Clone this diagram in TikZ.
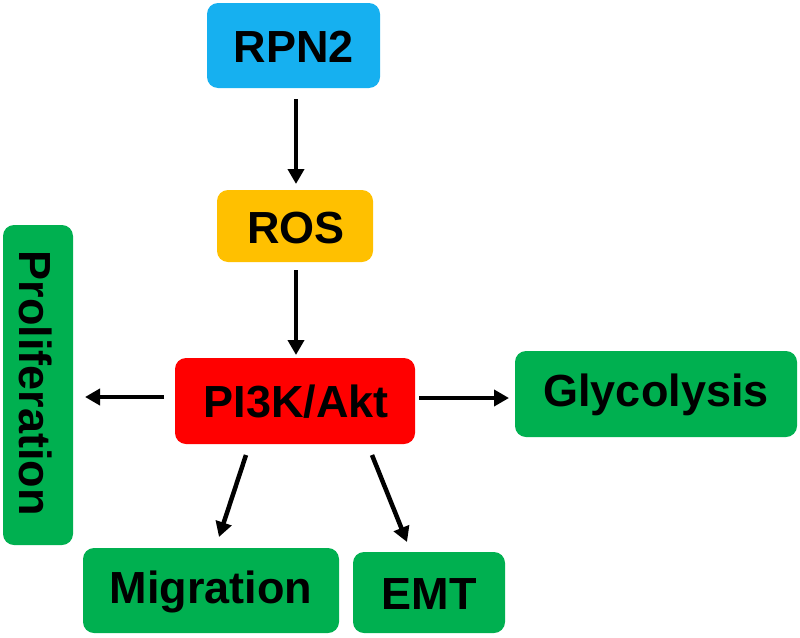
\documentclass[tikz,border=0pt]{standalone}
\usepackage{fontspec}
\setmainfont{Liberation Sans}
\usetikzlibrary{arrows.meta}
\definecolor{cblue}{RGB}{22,176,240}
\definecolor{cyel}{RGB}{255,192,0}
\definecolor{cred}{RGB}{255,0,0}
\definecolor{cgreen}{RGB}{0,176,80}
\begin{document}
\begin{tikzpicture}[x=1pt,y=-1pt,
  box/.style={rounded corners=11pt, inner sep=0pt, font=\fontsize{45}{50}\selectfont\bfseries},
  arr/.style={-{Triangle[length=15pt,width=16pt]}, line width=4.5pt, black}]
\useasboundingbox (0,0) rectangle (800,637);
\fill[cblue, rounded corners=11pt] (207,3) rectangle (380,88);
\node[box] (rpn) at (294,47) {RPN2};
\fill[cyel, rounded corners=11pt] (217,190) rectangle (373,262);
\node[box] (ros) at (296,228) {ROS};
\fill[cred, rounded corners=11pt] (175,358) rectangle (415,444);
\node[box] (pi) at (296,402) {PI3K/Akt};
\fill[cgreen, rounded corners=11pt] (3,225) rectangle (73,545);
\node[box, rotate=-90] (pro) at (36,383) {Proliferation};
\fill[cgreen, rounded corners=11pt] (515,351) rectangle (797,437);
\node[box] (gly) at (656,395) {Glycolysis};
\fill[cgreen, rounded corners=11pt] (83,548) rectangle (339,633);
\node[box] (mig) at (211,592) {Migration};
\fill[cgreen, rounded corners=11pt] (353,552) rectangle (505,633);
\node[box] (emt) at (429,594) {EMT};
\coordinate (a1s) at (296,99);
\coordinate (a1e) at (296,184);
\draw[arr] (a1s) -- (a1e);
\coordinate (a2s) at (296,270);
\coordinate (a2e) at (296,355);
\draw[arr] (a2s) -- (a2e);
\coordinate (a3s) at (164,397);
\coordinate (a3e) at (85,397);
\draw[arr] (a3s) -- (a3e);
\coordinate (a4s) at (419,398);
\coordinate (a4e) at (509,398);
\draw[arr] (a4s) -- (a4e);
\coordinate (a5s) at (246,455);
\coordinate (a5e) at (219,537);
\draw[arr] (a5s) -- (a5e);
\coordinate (a6s) at (372,455);
\coordinate (a6e) at (407,542);
\draw[arr] (a6s) -- (a6e);
\end{tikzpicture}
\end{document}
